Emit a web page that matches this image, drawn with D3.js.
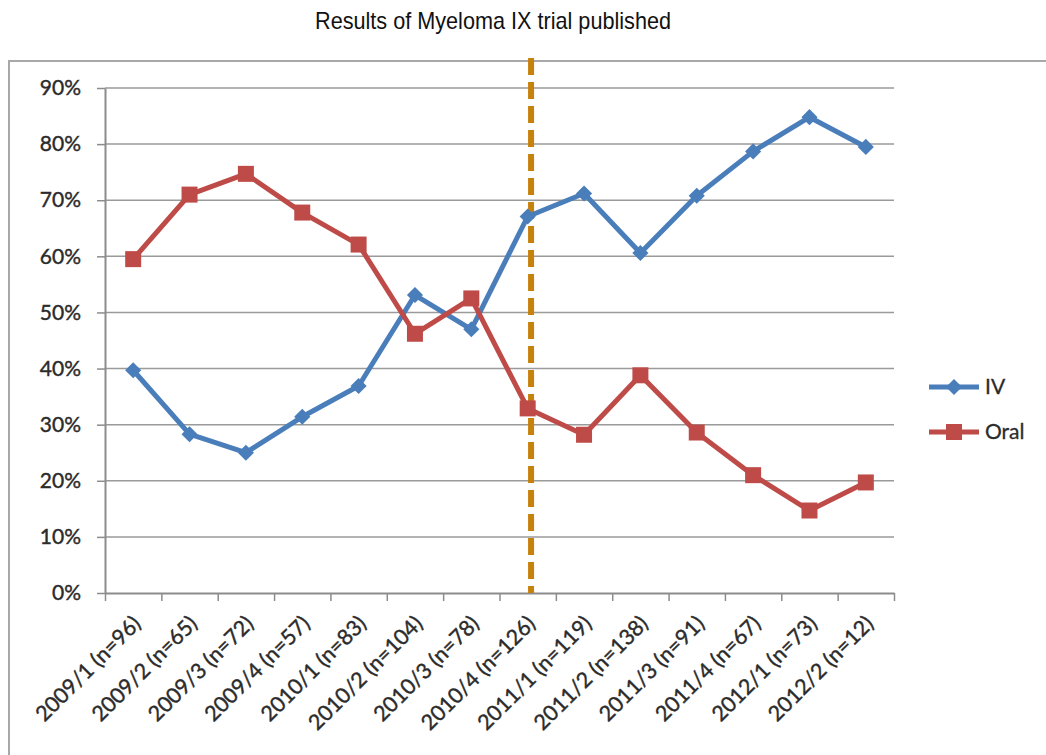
<!DOCTYPE html>
<html>
<head>
<meta charset="utf-8">
<script src="https://cdn.jsdelivr.net/npm/d3@7"></script>
<style>
  body { margin: 0; background: #fff; }
  svg { display: block; }
</style>
</head>
<body>
<div id="chart"></div>
<script>
// quarters with number of patients
let categories = ["2009/1 (n=96)", "2009/2 (n=65)", "2009/3 (n=72)", "2009/4 (n=57)",
    "2010/1 (n=83)", "2010/2 (n=104)", "2010/3 (n=78)", "2010/4 (n=126)",
    "2011/1 (n=119)", "2011/2 (n=138)", "2011/3 (n=91)", "2011/4 (n=67)",
    "2012/1 (n=73)", "2012/2 (n=12)"];

// percentages
let ivValues   = [39.7, 28.3, 25.0, 31.4, 36.9, 53.1, 47.0, 67.1, 71.2, 60.6, 70.8, 78.7, 84.8, 79.5];
let oralValues = [59.5, 71.0, 74.7, 67.8, 62.1, 46.2, 52.5, 32.9, 28.2, 38.8, 28.6, 21.0, 14.7, 19.7];

let yTicks = [0, 10, 20, 30, 40, 50, 60, 70, 80, 90];

// where the trial results came out, in category units (just after 2010/4)
let publishedAt = 7.56;
let titleText = "Results of Myeloma IX trial published";

let seriesNames = ["IV", "Oral"];

function draw() {
    let W = 1046, H = 755;
    let left = 105, right = 894, top = 88, bottom = 593;

    let svg = d3.select("#chart")
        .append("svg")
        .attr("width", W)
        .attr("height", H)
        .style("background", "white");

    let x = d3.scaleBand().domain(categories).range([left, right]);
    let xi = d3.scaleLinear().domain([0, categories.length]).range([left, right]);
    let y = d3.scaleLinear().domain([0, 90]).range([bottom, top]);

    let blue = "#4a7ebb";
    let red = "#be4b48";
    let textCol = "#2b2b2b";
    let font = "Lato, 'Open Sans', sans-serif";

    // outer frame (it runs off the right and bottom of the picture)
    svg.append("rect")
        .attr("x", 9).attr("y", 61)
        .attr("width", W + 50).attr("height", H + 50)
        .attr("fill", "none")
        .attr("stroke", "#a8a8a8")
        .attr("stroke-width", 2);

    // gridlines
    svg.append("g")
        .selectAll("line")
        .data(yTicks.filter(t => t > 0))
        .enter().append("line")
        .attr("x1", left).attr("x2", right)
        .attr("y1", d => y(d)).attr("y2", d => y(d))
        .attr("stroke", "#9a9a9a")
        .attr("stroke-width", 1.5);

    // y axis
    let yAxis = svg.append("g")
        .attr("transform", "translate(" + left + ",0)")
        .call(d3.axisLeft(y).tickValues(yTicks).tickFormat(d => d + "%")
            .tickSize(8).tickSizeOuter(0).tickPadding(16));
    yAxis.select(".domain").attr("stroke", "#8c8c8c").attr("stroke-width", 2);
    yAxis.selectAll(".tick line").attr("stroke", "#8c8c8c").attr("stroke-width", 1.5);
    yAxis.selectAll("text")
        .style("font-family", font)
        .style("font-size", "21px")
        .attr("fill", textCol)
        .attr("stroke", textCol)
        .attr("stroke-width", 0.4);

    // x axis, ticks sit between categories like Excel
    let xAxis = svg.append("g")
        .attr("transform", "translate(0," + bottom + ")")
        .call(d3.axisBottom(xi).tickValues(d3.range(categories.length + 1))
            .tickFormat("").tickSize(8).tickSizeOuter(0));
    xAxis.select(".domain").attr("stroke", "#8c8c8c").attr("stroke-width", 2);
    xAxis.selectAll(".tick line").attr("stroke", "#8c8c8c").attr("stroke-width", 1.5);

    // slanted category labels
    svg.append("g")
        .selectAll("text")
        .data(categories)
        .enter().append("text")
        .attr("transform", d => "translate(" + (x(d) + x.bandwidth() / 2 + 9) + "," + (bottom + 32) + ") rotate(-45)")
        .attr("text-anchor", "end")
        .style("font-family", font)
        .style("font-size", "21.5px")
        .attr("fill", textCol)
        .attr("stroke", textCol)
        .attr("stroke-width", 0.4)
        .text(d => d);

    // publication marker
    svg.append("line")
        .attr("x1", xi(publishedAt)).attr("x2", xi(publishedAt))
        .attr("y1", 58).attr("y2", bottom)
        .attr("stroke", "#c7820e")
        .attr("stroke-width", 6)
        .attr("stroke-dasharray", "17,7");

    svg.append("text")
        .attr("x", 493).attr("y", 29)
        .attr("text-anchor", "middle")
        .attr("textLength", 356)
        .attr("lengthAdjust", "spacingAndGlyphs")
        .style("font-family", "'Liberation Sans Narrow', 'Liberation Sans', Arial, sans-serif")
        .style("font-size", "24px")
        .attr("fill", "#111")
        .text(titleText);

    let line = d3.line()
        .x((d, i) => x(categories[i]) + x.bandwidth() / 2)
        .y(d => y(d));

    let series = [
        { name: seriesNames[0], values: ivValues, color: blue, shape: "diamond" },
        { name: seriesNames[1], values: oralValues, color: red, shape: "square" }
    ];

    let diamond = d3.symbol(d3.symbolSquare, 130);
    let square = d3.symbol(d3.symbolSquare, 256);

    function marker(g, s, cx, cy) {
        if (s.shape === "diamond") {
            g.append("path")
                .attr("d", diamond())
                .attr("transform", "translate(" + cx + "," + cy + ") rotate(45)")
                .attr("fill", s.color);
        } else {
            g.append("path")
                .attr("d", square())
                .attr("transform", "translate(" + cx + "," + cy + ")")
                .attr("fill", s.color);
        }
    }

    series.forEach(function(s) {
        let g = svg.append("g");
        g.append("path")
            .attr("d", line(s.values))
            .attr("fill", "none")
            .attr("stroke", s.color)
            .attr("stroke-width", 5)
            .attr("stroke-linejoin", "round");
        s.values.forEach(function(v, i) {
            marker(g, s, x(categories[i]) + x.bandwidth() / 2, y(v));
        });
    });

    // legend
    let legend = svg.append("g");
    series.forEach(function(s, i) {
        let ly = 387 + i * 45;
        let g = legend.append("g");
        g.append("line")
            .attr("x1", 929).attr("x2", 979)
            .attr("y1", ly).attr("y2", ly)
            .attr("stroke", s.color)
            .attr("stroke-width", 5);
        marker(g, s, 954, ly);
        g.append("text")
            .attr("x", 985).attr("y", ly + 7)
            .style("font-family", font)
            .style("font-size", "21px")
            .attr("fill", textCol)
            .attr("stroke", textCol)
            .attr("stroke-width", 0.3)
            .text(s.name);
    });
}

window.onload = () => {
    draw();
}
</script>
</body>
</html>
